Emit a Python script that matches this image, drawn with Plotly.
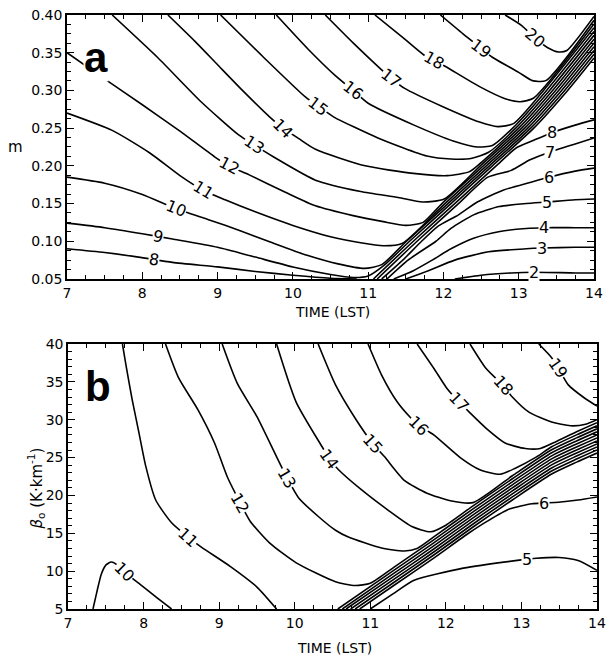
import plotly.graph_objects as go

# ---------------- panel a : isolines in the (time, m) plane ----------------
# left-hand family (levels 8-20); each rises along the narrow band to the right edge
a8_t = [7.0, 7.5, 7.95, 8.4, 9.0, 9.5, 10.0, 10.5, 10.85]
a8_m = [0.090, 0.085, 0.079, 0.072, 0.066, 0.060, 0.055, 0.051, 0.050]

a9_t = [7.0, 7.5, 8.0, 8.4, 9.0, 9.5, 10.0, 10.5, 10.8, 11.0, 11.21, 11.55, 12.1, 12.65, 13.2, 13.65, 14.0]
a9_m = [0.124, 0.118, 0.110, 0.103, 0.092, 0.079, 0.066, 0.056, 0.052, 0.054, 0.068, 0.100, 0.150, 0.200, 0.250, 0.300, 0.343]

a10_t = [7.0, 7.5, 8.0, 8.45, 8.9, 9.3, 9.7, 10.2, 10.6, 10.95, 11.18, 11.51, 12.06, 12.61, 13.16, 13.61, 14.0]
a10_m = [0.185, 0.177, 0.162, 0.143, 0.128, 0.114, 0.099, 0.081, 0.070, 0.064, 0.069, 0.100, 0.150, 0.200, 0.250, 0.300, 0.348]

a11_t = [7.0, 7.6, 8.1, 8.5, 8.8, 9.1, 9.5, 10.0, 10.5, 10.9, 11.2, 11.45, 12.02, 12.57, 13.12, 13.57, 14.0]
a11_m = [0.270, 0.247, 0.217, 0.187, 0.168, 0.155, 0.139, 0.121, 0.106, 0.098, 0.094, 0.097, 0.150, 0.200, 0.250, 0.300, 0.353]

a12_t = [7.0, 7.43, 8.0, 8.5, 8.96, 9.15, 9.42, 9.9, 10.3, 10.8, 11.2, 11.5, 11.73, 11.98, 12.53, 13.08, 13.53, 14.0]
a12_m = [0.350, 0.320, 0.281, 0.246, 0.212, 0.200, 0.188, 0.165, 0.147, 0.134, 0.126, 0.121, 0.125, 0.150, 0.200, 0.250, 0.300, 0.358]

a13_t = [7.6, 8.21, 8.78, 9.28, 9.48, 9.74, 10.3, 10.9, 11.4, 11.72, 12.01, 12.49, 13.04, 13.49, 14.0]
a13_m = [0.400, 0.343, 0.285, 0.241, 0.228, 0.212, 0.181, 0.166, 0.158, 0.152, 0.156, 0.200, 0.250, 0.300, 0.363]

a14_t = [8.34, 8.7, 9.0, 9.35, 9.69, 9.87, 10.08, 10.3, 10.96, 11.6, 12.05, 12.34, 12.45, 13.0, 13.45, 14.0]
a14_m = [0.400, 0.365, 0.334, 0.298, 0.265, 0.250, 0.236, 0.222, 0.200, 0.190, 0.187, 0.192, 0.200, 0.250, 0.300, 0.368]

a15_t = [9.04, 9.6, 10.17, 10.34, 10.54, 11.13, 11.78, 12.1, 12.38, 12.6, 12.96, 13.41, 14.0]
a15_m = [0.400, 0.345, 0.291, 0.279, 0.265, 0.237, 0.213, 0.209, 0.210, 0.218, 0.250, 0.300, 0.373]

a16_t = [9.78, 10.2, 10.56, 10.80, 11.0, 11.61, 12.13, 12.45, 12.65, 12.92, 13.37, 14.0]
a16_m = [0.400, 0.355, 0.320, 0.300, 0.283, 0.254, 0.233, 0.225, 0.227, 0.250, 0.300, 0.378]

a17_t = [10.43, 10.8, 11.15, 11.31, 11.48, 12.0, 12.48, 12.72, 12.93, 13.33, 14.0]
a17_m = [0.400, 0.363, 0.330, 0.316, 0.303, 0.278, 0.258, 0.252, 0.256, 0.300, 0.383]

a18_t = [11.09, 11.45, 11.74, 11.88, 12.04, 12.48, 12.82, 13.02, 13.2, 14.0]
a18_m = [0.400, 0.371, 0.347, 0.340, 0.331, 0.305, 0.289, 0.285, 0.290, 0.388]

a19_t = [11.96, 12.26, 12.5, 12.65, 13.0, 13.18, 13.36, 14.0]
a19_m = [0.400, 0.375, 0.356, 0.344, 0.324, 0.313, 0.313, 0.393]

a20_t = [12.82, 13.04, 13.21, 13.38, 13.53, 13.64, 14.0]
a20_m = [0.400, 0.386, 0.370, 0.357, 0.351, 0.353, 0.398]

# right-hand family (levels 2-8); each comes in from the right edge and runs down the band
a8r_t = [14.0, 13.75, 13.44, 13.2, 12.97, 12.70, 12.15, 11.6, 11.07]
a8r_m = [0.261, 0.254, 0.244, 0.234, 0.224, 0.200, 0.150, 0.100, 0.050]

a7r_t = [14.0, 13.75, 13.41, 13.15, 12.9, 12.59, 12.2, 11.65, 11.12]
a7r_m = [0.237, 0.229, 0.218, 0.208, 0.194, 0.185, 0.150, 0.100, 0.050]

a6r_t = [14.0, 13.75, 13.40, 13.15, 12.8, 12.45, 12.2, 11.93, 11.71, 11.46, 11.18]
a6r_m = [0.197, 0.193, 0.185, 0.178, 0.168, 0.152, 0.135, 0.120, 0.100, 0.075, 0.050]

a5r_t = [14.0, 13.75, 13.37, 13.1, 12.74, 12.4, 12.1, 11.9, 11.53, 11.25]
a5r_m = [0.156, 0.155, 0.152, 0.150, 0.146, 0.135, 0.117, 0.100, 0.075, 0.050]

a4r_t = [14.0, 13.75, 13.34, 13.1, 12.75, 12.4, 12.1, 11.85, 11.6, 11.34]
a4r_m = [0.118, 0.118, 0.118, 0.117, 0.113, 0.104, 0.090, 0.075, 0.061, 0.050]

a3r_t = [14.0, 13.75, 13.31, 13.1, 12.6, 12.15, 11.8, 11.5]
a3r_m = [0.092, 0.092, 0.091, 0.090, 0.086, 0.075, 0.061, 0.050]

a2r_t = [14.0, 13.75, 13.2, 12.9, 12.5, 12.15]
a2r_m = [0.058, 0.058, 0.059, 0.058, 0.055, 0.050]

# inline contour labels of panel a
a_lab_level = [8, 9, 10, 11, 12, 13, 14, 15, 16, 17, 18, 19, 20, 8, 7, 6, 5, 4, 3, 2]
a_lab_t = [8.15, 8.21, 8.45, 8.80, 9.15, 9.48, 9.87, 10.34, 10.80, 11.31, 11.88, 12.50, 13.21,
           13.44, 13.41, 13.40, 13.37, 13.34, 13.31, 13.20]
a_lab_m = [0.076, 0.106, 0.143, 0.168, 0.200, 0.228, 0.250, 0.279, 0.300, 0.316, 0.340, 0.356, 0.370,
           0.244, 0.218, 0.185, 0.152, 0.118, 0.091, 0.059]
a_lab_angle = [8, 12, 22, 32, 28, 33, 45, 37, 38, 38, 30, 37, 40, 0, 0, 0, 0, 0, 0, 0]

# ---------------- panel b : isolines in the (time, beta0) plane ----------------
b10_t = [7.33, 7.38, 7.44, 7.50, 7.57, 7.64, 7.74, 7.95, 8.15, 8.37]
b10_v = [5.0, 7.2, 9.6, 10.8, 11.2, 10.9, 9.9, 8.3, 6.7, 5.0]

b11_t = [7.72, 7.77, 7.85, 7.94, 8.03, 8.16, 8.37, 8.59, 8.76, 9.15, 9.50, 9.76]
b11_v = [40.0, 37.0, 32.6, 28.2, 23.8, 19.4, 16.4, 14.5, 13.2, 10.6, 7.9, 5.0]

b12_t = [8.29, 8.46, 8.72, 8.94, 9.11, 9.28, 9.41, 9.67, 10.02, 10.54, 10.8, 11.0, 11.32, 11.84, 12.36, 12.88, 13.40, 13.73, 14.0]
b12_v = [40.0, 35.6, 31.3, 26.9, 22.4, 19.0, 16.6, 13.7, 11.1, 8.6, 8.1, 8.4, 10.57, 14.13, 17.83, 21.4, 24.83, 26.4, 27.6]

b13_t = [9.04, 9.24, 9.50, 9.76, 9.90, 10.05, 10.32, 10.54, 10.71, 11.15, 11.45, 11.62, 11.84, 12.36, 12.88, 13.40, 13.73, 14.0]
b13_v = [40.0, 34.8, 30.4, 25.1, 22.3, 19.7, 17.15, 15.4, 14.5, 13.05, 12.66, 13.0, 14.53, 18.23, 21.8, 25.23, 26.8, 28.0]

b14_t = [9.76, 10.02, 10.37, 10.46, 10.58, 10.89, 11.23, 11.55, 11.8, 12.0, 12.36, 12.88, 13.40, 13.73, 14.0]
b14_v = [40.0, 32.3, 26.3, 24.8, 23.4, 20.7, 18.1, 15.9, 15.2, 16.07, 18.63, 22.2, 25.63, 27.2, 28.4]

b15_t = [10.31, 10.54, 10.80, 11.03, 11.19, 11.45, 11.75, 12.06, 12.36, 12.88, 13.40, 13.73, 14.0]
b15_v = [40.0, 34.6, 30.2, 26.9, 25.1, 22.0, 20.3, 19.3, 19.05, 22.6, 26.03, 27.6, 28.8]

b16_t = [10.97, 11.15, 11.36, 11.54, 11.64, 11.84, 12.19, 12.45, 12.72, 12.92, 13.2, 13.40, 13.73, 14.0]
b16_v = [40.0, 35.9, 32.3, 30.2, 29.3, 28.0, 25.0, 23.4, 22.8, 23.6, 25.1, 26.43, 28.0, 29.2]

b17_t = [11.62, 11.84, 12.01, 12.17, 12.32, 12.53, 12.79, 13.05, 13.25, 13.45, 13.73, 14.0]
b17_v = [40.0, 36.8, 34.2, 32.4, 30.9, 28.9, 26.9, 26.2, 26.2, 27.07, 28.4, 29.6]

b18_t = [12.32, 12.53, 12.76, 12.88, 13.10, 13.40, 13.65, 13.85, 14.0]
b18_v = [40.0, 36.8, 34.5, 33.0, 31.0, 29.7, 29.2, 29.4, 30.0]

b19_t = [13.23, 13.40, 13.49, 13.62, 13.83, 14.0]
b19_v = [40.0, 38.2, 36.8, 34.6, 32.9, 31.8]

# unlabelled levels 7-11 that run the whole length of the band
b7s_t = [10.80, 11.32, 11.84, 12.36, 12.88, 13.40, 13.73, 14.0]
b7s_v = [5.0, 8.57, 12.13, 15.83, 19.40, 22.83, 24.4, 25.6]
b8s_t = [10.74, 11.32, 11.84, 12.36, 12.88, 13.40, 13.73, 14.0]
b8s_v = [5.0, 8.97, 12.53, 16.23, 19.80, 23.23, 24.8, 26.0]
b9s_t = [10.68, 11.32, 11.84, 12.36, 12.88, 13.40, 13.73, 14.0]
b9s_v = [5.0, 9.37, 12.93, 16.63, 20.20, 23.63, 25.2, 26.4]
b10s_t = [10.63, 11.32, 11.84, 12.36, 12.88, 13.40, 13.73, 14.0]
b10s_v = [5.0, 9.77, 13.33, 17.03, 20.60, 24.03, 25.6, 26.8]
b11s_t = [10.57, 11.32, 11.84, 12.36, 12.88, 13.40, 13.73, 14.0]
b11s_v = [5.0, 10.17, 13.73, 17.43, 21.00, 24.43, 26.0, 27.2]

b6_t = [14.0, 13.75, 13.49, 13.30, 13.14, 12.84, 12.55, 12.3, 11.84, 11.32, 10.86]
b6_v = [19.8, 19.4, 19.1, 19.0, 18.9, 18.2, 16.6, 15.0, 11.73, 8.17, 5.0]

b5_t = [11.0, 11.3, 11.58, 12.23, 12.97, 13.2, 13.5, 13.75, 14.0]
b5_v = [5.0, 7.0, 8.8, 10.4, 11.45, 11.7, 11.8, 11.4, 10.1]

b_lab_level = [10, 11, 12, 13, 14, 15, 16, 17, 18, 19, 6, 5]
b_lab_t = [7.74, 8.59, 9.28, 9.90, 10.46, 11.03, 11.64, 12.17, 12.76, 13.49, 13.30, 13.08]
b_lab_v = [9.9, 14.5, 19.0, 22.3, 24.8, 26.9, 29.3, 32.4, 34.5, 36.8, 19.0, 11.57]
b_lab_angle = [45, 42, 60, 60, 55, 48, 45, 47, 48, 55, 0, 0]

x_ticks = [7, 8, 9, 10, 11, 12, 13, 14]

A_LINES = [(a8_t, a8_m), (a9_t, a9_m), (a10_t, a10_m), (a11_t, a11_m), (a12_t, a12_m),
           (a13_t, a13_m), (a14_t, a14_m), (a15_t, a15_m), (a16_t, a16_m), (a17_t, a17_m),
           (a18_t, a18_m), (a19_t, a19_m), (a20_t, a20_m),
           (a8r_t, a8r_m), (a7r_t, a7r_m), (a6r_t, a6r_m), (a5r_t, a5r_m),
           (a4r_t, a4r_m), (a3r_t, a3r_m), (a2r_t, a2r_m)]
B_LINES = [(b10_t, b10_v), (b11_t, b11_v), (b12_t, b12_v), (b13_t, b13_v), (b14_t, b14_v),
           (b15_t, b15_v), (b16_t, b16_v), (b17_t, b17_v), (b18_t, b18_v), (b19_t, b19_v),
           (b7s_t, b7s_v), (b8s_t, b8s_v), (b9s_t, b9s_v), (b10s_t, b10s_v), (b11s_t, b11s_v),
           (b6_t, b6_v), (b5_t, b5_v)]

INK = "black"
FONT = "DejaVu Sans"
line_style = dict(color=INK, width=1.6, shape="spline", smoothing=0.6)

fig = go.Figure()
for xs, ys in A_LINES:
    fig.add_trace(go.Scatter(x=xs, y=ys, mode="lines", line=line_style,
                             xaxis="x", yaxis="y", hoverinfo="skip", showlegend=False))
for xs, ys in B_LINES:
    fig.add_trace(go.Scatter(x=xs, y=ys, mode="lines", line=line_style,
                             xaxis="x2", yaxis="y2", hoverinfo="skip", showlegend=False))

annotations = []
for lev, tx, ty, ang in zip(a_lab_level, a_lab_t, a_lab_m, a_lab_angle):
    annotations.append(dict(x=tx, y=ty, xref="x", yref="y", text=str(lev), showarrow=False,
                            textangle=ang, bgcolor="white", borderpad=0,
                            xanchor="center", yanchor="middle",
                            font=dict(family=FONT, size=16, color=INK)))
for lev, tx, ty, ang in zip(b_lab_level, b_lab_t, b_lab_v, b_lab_angle):
    annotations.append(dict(x=tx, y=ty, xref="x2", yref="y2", text=str(lev), showarrow=False,
                            textangle=ang, bgcolor="white", borderpad=0,
                            xanchor="center", yanchor="middle",
                            font=dict(family=FONT, size=16, color=INK)))

# panel letters
annotations.append(dict(x=7.39, y=0.343, xref="x", yref="y", text="<b>a</b>", showarrow=False,
                        bgcolor="white", borderpad=0, xanchor="center", yanchor="middle",
                        font=dict(family="Liberation Sans", size=42, color=INK)))
annotations.append(dict(x=7.40, y=34.45, xref="x2", yref="y2", text="<b>b</b>", showarrow=False,
                        bgcolor="white", borderpad=0, xanchor="center", yanchor="middle",
                        font=dict(family="Liberation Sans", size=42, color=INK)))

# axis titles
annotations.append(dict(x=10.52, y=0.50, xref="x", yref="paper", text="TIME (LST)", showarrow=False,
                        xanchor="center", yanchor="middle",
                        font=dict(family=FONT, size=14, color=INK)))
annotations.append(dict(x=10.52, y=-0.0657, xref="x2", yref="paper", text="TIME (LST)", showarrow=False,
                        xanchor="center", yanchor="middle",
                        font=dict(family=FONT, size=14, color=INK)))
annotations.append(dict(x=-0.0965, y=0.778, xref="paper", yref="paper", text="m", showarrow=False,
                        xanchor="center", yanchor="middle",
                        font=dict(family=FONT, size=15, color=INK)))
annotations.append(dict(x=-0.0594, y=0.202, xref="paper", yref="paper", textangle=-90,
                        text="<i>β</i><sub>o</sub> (K·km<sup>-1</sup>)", showarrow=False,
                        xanchor="center", yanchor="middle",
                        font=dict(family=FONT, size=15, color=INK)))

axis_common = dict(showline=True, linecolor=INK, linewidth=1.5, mirror="allticks",
                   ticks="inside", ticklen=7, tickwidth=1.2, tickcolor=INK,
                   showgrid=False, zeroline=False, ticklabeloverflow="allow",
                   tickfont=dict(family=FONT, size=14, color=INK))

fig.update_layout(
    width=609, height=660,
    margin=dict(l=67, r=3, t=15, b=51),
    paper_bgcolor="white", plot_bgcolor="white",
    showlegend=False,
    xaxis=dict(domain=[0.0, 0.9944], anchor="y", range=[6.9995, 14.0005], tickvals=x_ticks,
               minor=dict(dtick=0.25, ticks="inside", ticklen=4, tickcolor=INK, tickwidth=1),
               **axis_common),
    yaxis=dict(domain=[0.5556, 1.0], anchor="x", range=[0.05, 0.40], dtick=0.05, tick0=0.05,
               tickformat=".2f",
               minor=dict(dtick=0.0125, ticks="inside", ticklen=4, tickcolor=INK, tickwidth=1),
               **axis_common),
    xaxis2=dict(domain=[0.0019, 1.0], anchor="y2", range=[6.9995, 14.0005], tickvals=x_ticks,
                minor=dict(dtick=0.25, ticks="inside", ticklen=4, tickcolor=INK, tickwidth=1),
                **axis_common),
    yaxis2=dict(domain=[0.0, 0.4461], anchor="x2", range=[5, 40], dtick=5, tick0=5,
                minor=dict(dtick=1, ticks="inside", ticklen=4, tickcolor=INK, tickwidth=1),
                **axis_common),
    annotations=annotations,
)

fig.write_html("out.html")
